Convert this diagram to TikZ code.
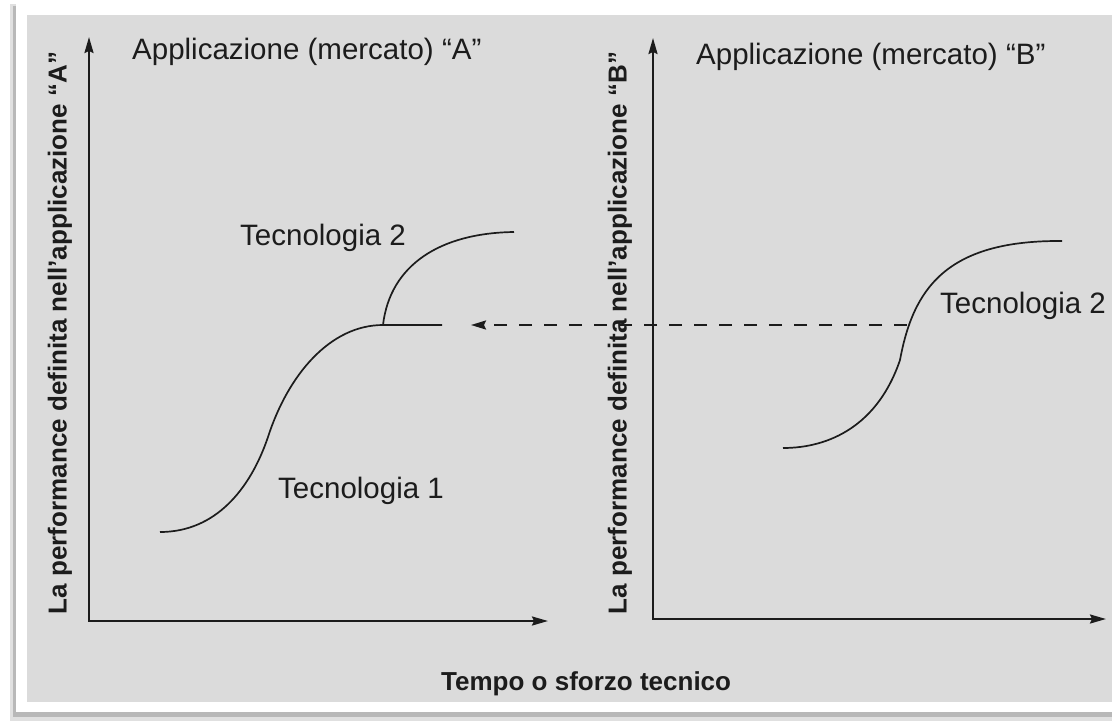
\documentclass[tikz,border=0pt]{standalone}
\usepackage{fontspec}
\setmainfont{Liberation Sans}
\usetikzlibrary{arrows.meta}
\definecolor{paper}{RGB}{219,219,219}
\definecolor{ink}{RGB}{28,28,28}

\begin{document}
\begin{tikzpicture}[x=1pt, y=-1pt,
  axis/.style={draw=ink, line width=2.2pt, line join=miter,
    {Stealth[length=16pt, width=9pt, inset=2pt]}-{Stealth[length=16pt, width=9pt, inset=2pt]}},
  curve/.style={draw=ink, line width=1.7pt},
  shift arrow/.style={draw=ink, line width=2pt, dash pattern=on 13pt off 12pt,
    -{Stealth[length=15pt, width=9pt, inset=2pt]}},
  title/.style={anchor=base west, inner sep=0pt, text=ink, font=\fontsize{29.5}{34}\selectfont},
  axlabel/.style={inner sep=0pt, text=ink, font=\fontsize{26}{30}\selectfont\bfseries}]

\useasboundingbox (0,0) rectangle (1112,721);

% photo of the page
\fill[white] (0,0) rectangle (1112,721);
\fill[black!12] (10,4) rectangle (1112,721);
\fill[black!28] (13,6) rectangle (1112,717);
\fill[white] (16,0) rectangle (1112,712);
\fill[paper] (27,15) rectangle (1112,702);

% market A
\coordinate (yA) at (89,37);
\coordinate (oA) at (89,621);
\coordinate (xA) at (548,621);
\draw[axis] (yA) -- (oA) -- (xA);

\node[title] (titA) at (132,59) {Applicazione (mercato) “A”};
\node[axlabel, rotate=90] (perfA) at (60,333) {La performance definita nell’applicazione “A”};

\coordinate (t1s) at (160,532);
\coordinate (t1m) at (268,437);
\coordinate (t1j) at (383,325);
\coordinate (t1e) at (442,325);
\coordinate (t2e) at (514,232);
\draw[curve] (t1s) .. controls (215,532) and (250,490) .. (t1m)
  .. controls (288,375) and (330,325) .. (t1j) -- (t1e);
\draw[curve] (t1j) .. controls (390,265) and (440,233) .. (t2e);

\node[title] (tecA2) at (240,245) {Tecnologia 2};
\node[title] (tecA1) at (278,498) {Tecnologia 1};

% market B
\coordinate (yB) at (653,38);
\coordinate (oB) at (653,619);
\coordinate (xB) at (1106,619);
\draw[axis] (yB) -- (oB) -- (xB);

\node[title] (titB) at (696,64) {Applicazione (mercato) “B”};
\node[axlabel, rotate=90] (perfB) at (620,333) {La performance definita nell’applicazione “B”};

\coordinate (b2s) at (783,448);
\coordinate (b2m) at (900,360);
\coordinate (b2e) at (1062,241);
\draw[curve] (b2s) .. controls (830,448) and (878,425) .. (b2m)
  .. controls (913,290) and (945,240) .. (b2e);

\node[title] (tecB2) at (940,313) {Tecnologia 2};

% shift of technology 2 from B to A
\coordinate (cross) at (907,325);
\coordinate (tip) at (471,325);
\draw[shift arrow] (cross) -- (tip);

\node[axlabel, anchor=base west] (tempo) at (441,690) {Tempo o sforzo tecnico};

\end{tikzpicture}
\end{document}
